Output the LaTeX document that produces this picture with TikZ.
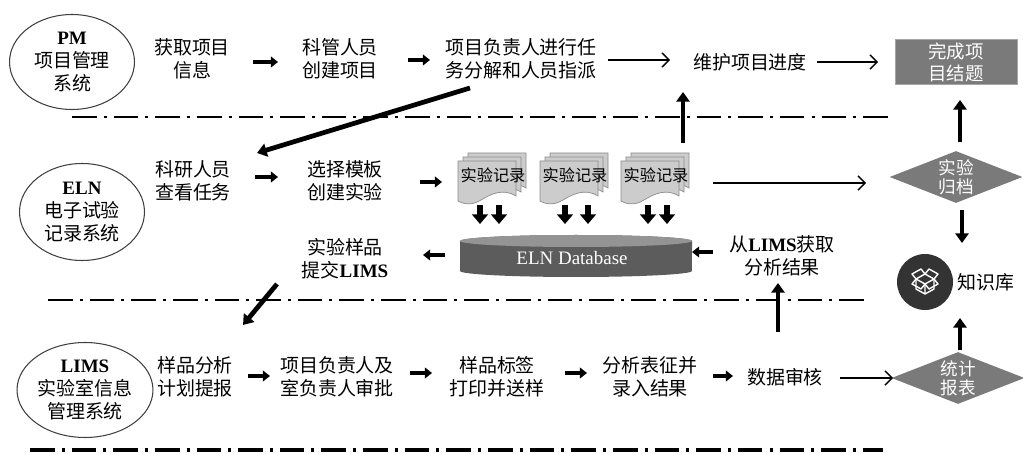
\documentclass[tikz,border=0pt]{standalone}
\usepackage{fontspec}
\setmainfont{Liberation Serif}
\newfontfamily\cjk{Noto Sans CJK SC}
\usepackage{tikz}
\usetikzlibrary{arrows.meta, shapes.geometric, calc, positioning}
\colorlet{colorBox}{black!52}
\colorlet{colorBase}{black!64}
\colorlet{colorBaseTop}{black!42}
\colorlet{colorPage}{black!20}
\colorlet{colorKb}{black!80}
\tikzset{
  sys/.style={ellipse, draw=black!75, line width=0.6pt, align=center, inner sep=0pt},
  stepbox/.style={align=center, inner sep=0pt},
  rectext/.style={inner sep=0pt, font=\cjk\fontsize{9.2}{11}\selectfont},
  endbox/.style={rectangle, fill=colorBox, draw=black!35, text=white, align=center, inner sep=0pt,
    minimum width=2.44cm, minimum height=0.9cm, font=\cjk\fontsize{10.5}{12.5}\selectfont},
  decide/.style={diamond, fill=colorBox, text=white, align=center, aspect=2.5, inner sep=0pt,
    minimum width=2.66cm, minimum height=1.04cm, font=\cjk\fontsize{10}{11}\selectfont},
  fat/.style={line width=2.3pt, -{Triangle[length=4pt, width=6pt]}},
  heavy/.style={line width=2.7pt, -{Triangle[length=5.5pt, width=7.5pt]}},
  dropar/.style={line width=3pt, -{Triangle[length=5.5pt, width=9pt]}},
  flow/.style={line width=0.8pt, -{Straight Barb[length=4pt, width=8pt]}},
  lane/.style={line width=1.6pt, dash pattern=on 14pt off 4pt on 1.7pt off 4pt},
  recpage/.pic={
    \foreach \s in {10,5,0}
      \draw[fill=colorPage, draw=black!45, line width=0.4pt, shift={(\s,-0.8*\s)}]
        (-29,-21) -- (29,-21) -- (29,14) .. controls (16,6) and (4,12) .. (-6,18)
        .. controls (-14,23) and (-22,23) .. (-29,19) -- cycle;
  }
}

\begin{document}
\begin{tikzpicture}[x=0.02cm, y=-0.02cm, every node/.style={font=\cjk\fontsize{10.8}{13}\selectfont}]
\useasboundingbox (0,0) rectangle (1023,455);

\draw[lane] (72,117) -- (893,117);
\draw[lane] (48,300) -- (867,300);
\draw[lane, line width=2pt] (30,450) -- (883,450);

\node[sys, minimum width=2.5cm, minimum height=1.9cm] (pm) at (72,62) {{\rmfamily\bfseries PM}\\项目管理\\系统};
\node[stepbox] (a1) at (192,59) {获取项目\\信息};
\node[stepbox] (a2) at (340,59) {科管人员\\创建项目};
\node[stepbox] (a3) at (521,59) {项目负责人进行任\\务分解和人员指派};
\node[stepbox] (a4) at (750,62) {维护项目进度};
\node[endbox] (done) at (956,62) {完成项\\目结题};

\node[sys, minimum width=2.5cm, minimum height=1.94cm] (eln) at (82,212) {{\rmfamily\bfseries ELN}\\电子试验\\记录系统};
\node[stepbox] (b1) at (193,181) {科研人员\\查看任务};
\node[stepbox] (b2) at (345,181) {选择模板\\创建实验};
\pic at (487,182) {recpage};
\node[rectext] (r1) at (493,175) {实验记录};
\pic at (569,182) {recpage};
\node[rectext] (r2) at (575,175) {实验记录};
\pic at (650,182) {recpage};
\node[rectext] (r3) at (656,175) {实验记录};
\node[decide] (arch) at (956,177) {实验\\归档};

\fill[colorBase] (460,241) -- (460,271) arc[start angle=180, end angle=360, x radius=2.32cm, y radius=0.12cm]
  -- (692,241) arc[start angle=0, end angle=180, x radius=2.32cm, y radius=0.12cm] -- cycle;
\fill[colorBaseTop] (576,241) ellipse[x radius=2.32cm, y radius=0.12cm];
\node[text=white, font=\rmfamily\fontsize{10.8}{13}\selectfont, minimum width=4.64cm, minimum height=0.84cm] (db) at (572,258) {ELN Database};
\node[stepbox] (c1) at (345,259) {实验样品\\提交{\rmfamily\bfseries LIMS}};
\node[stepbox] (c2) at (782,256) {从{\rmfamily\bfseries LIMS}获取\\分析结果};
\node[circle, fill=colorKb, minimum size=1.12cm, inner sep=0pt] (kb) at (925,282) {};
\node[right=0.08cm of kb, inner sep=0pt] (kbl) {知识库};
\begin{scope}[shift={(kb.center)}, white, line width=0.8pt, line join=round]
  \draw (-9,-3) -- (0,-8) -- (9,-3) -- (0,2) -- cycle;
  \draw (-9,-3) -- (-9,7) -- (0,12) -- (9,7) -- (9,-3) (0,2) -- (0,12);
  \draw (-9,-3) -- (-13,-8) -- (-4,-13) -- (0,-8) -- (4,-13) -- (13,-8) -- (9,-3);
  \draw (-9,-3) -- (-13,2) -- (-4,7) -- (0,2) -- (4,7) -- (13,2) -- (9,-3);
\end{scope}

\node[sys, minimum width=2.72cm, minimum height=1.9cm] (lims) at (85,390) {{\rmfamily\bfseries LIMS}\\实验室信息\\管理系统};
\node[stepbox] (d1) at (195,377) {样品分析\\计划提报};
\node[stepbox] (d2) at (337,377) {项目负责人及\\室负责人审批};
\node[stepbox] (d3) at (497,377) {样品标签\\打印并送样};
\node[stepbox] (d4) at (650,377) {分析表征并\\录入结果};
\node[stepbox] (d5) at (785,377) {数据审核};
\node[decide] (stat) at (958,378) {统计\\报表};

\draw[fat] ($(a1)+(61,3)$) -- ($(a2)+(-62,3)$);
\draw[fat] ($(a2)+(68,1)$) -- ($(a3)+(-91,1)$);
\draw[flow] ($(a3)+(87,1)$) -- ($(a4)+(-80,-2)$);
\draw[flow] ($(a4)+(67,0)$) -- ($(done)+(-78,0)$);
\draw[heavy] ($(a3)+(-51,29)$) -- ($(b1)+(64,-28)$);
\draw[heavy] ($(a4)+(-67,81)$) -- ($(a4)+(-67,30)$);
\draw[heavy] ($(arch)+(4,-35)$) -- ($(done)+(4,38)$);

\draw[fat] ($(b1)+(62,-4)$) -- ($(b2)+(-67,-4)$);
\draw[fat] ($(b2)+(75,1)$) -- ($(r1)+(-51,7)$);
\draw[flow] ($(r3)+(57,8)$) -- ($(arch)+(-90,6)$);
\foreach \r/\u/\v in {r1/-13/6, r2/-10/13, r3/-8/11} {
  \draw[dropar] ($(\r)+(\u,30)$) -- ++(0,19);
  \draw[dropar] ($(\r)+(\v,30)$) -- ++(0,19);
}
\draw[fat] ($(db)+(-127,-3)$) -- ($(c1)+(78,-4)$);
\draw[fat] ($(c2)+(-69,-4)$) -- ($(db)+(120,-6)$);
\draw[heavy] ($(arch)+(6,33)$) -- ($(kb)+(37,-39)$);
\draw[heavy] ($(c1)+(-68,25)$) -- ($(d1)+(48,-52)$);

\draw[fat] ($(d1)+(53,-1)$) -- ($(d2)+(-67,-1)$);
\draw[fat] ($(d2)+(73,-4)$) -- ($(d3)+(-65,-4)$);
\draw[fat] ($(d3)+(68,-4)$) -- ($(d4)+(-63,-4)$);
\draw[fat] ($(d4)+(63,-1)$) -- ($(d5)+(-52,-1)$);
\draw[flow] ($(d5)+(55,1)$) -- ($(stat)+(-65,0)$);
\draw[heavy] ($(d5)+(-7,-45)$) -- ($(c2)+(-4,27)$);
\draw[heavy] ($(stat)+(2,-28)$) -- ($(kb)+(35,36)$);
\end{tikzpicture}
\end{document}
